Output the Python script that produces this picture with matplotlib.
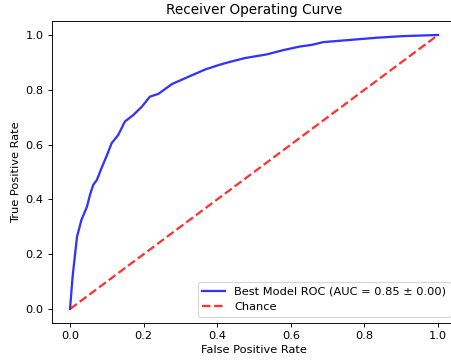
import matplotlib
matplotlib.use("Agg")
from matplotlib import pyplot as plt

# mean ROC curve
fpr = [0.0, 0.007, 0.012, 0.019, 0.031, 0.046, 0.055, 0.063, 0.073, 0.087,
       0.100, 0.113, 0.131, 0.149, 0.172, 0.195, 0.217, 0.240, 0.277, 0.326,
       0.367, 0.408, 0.435, 0.476, 0.534, 0.580, 0.625, 0.657, 0.688, 0.761,
       0.833, 0.906, 1.0]
tpr = [0.0, 0.118, 0.179, 0.264, 0.325, 0.373, 0.420, 0.453, 0.471, 0.519,
       0.560, 0.605, 0.635, 0.684, 0.708, 0.738, 0.775, 0.785, 0.821, 0.850,
       0.874, 0.892, 0.902, 0.916, 0.929, 0.945, 0.958, 0.964, 0.974, 0.982,
       0.990, 0.996, 1.0]
chance = [0, 1]
mean_auc = 0.85
std_auc = 0.00

dpi = 82
fig = plt.figure(figsize=(452. / dpi, 364. / dpi), dpi=dpi)
ax = fig.add_axes([0.1142, 0.1135, 0.8956, 0.828])

ax.plot(fpr, tpr, color="b", lw=2, alpha=.8,
        label="Best Model ROC (AUC = %0.2f \u00b1 %0.2f)" % (mean_auc, std_auc))
ax.plot(chance, chance, linestyle="--", lw=2, color="r", alpha=.8, label="Chance")

ax.set_xlim(-0.05, 1.05)
ax.set_ylim(-0.05, 1.05)
ax.set_xlabel("False Positive Rate")
ax.set_ylabel("True Positive Rate")
ax.set_title("Receiver Operating Curve")
ax.legend(loc="lower right")

fig.savefig("out.png", dpi=dpi)
